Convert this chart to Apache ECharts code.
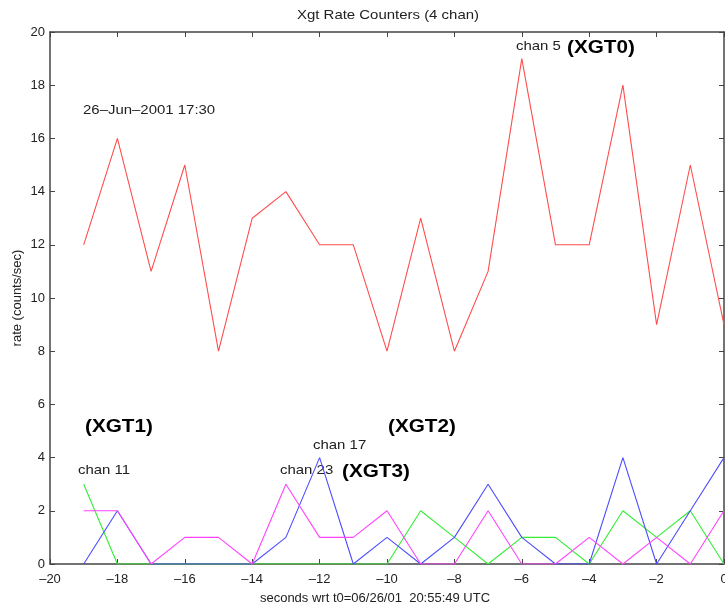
<!DOCTYPE html>
<html>
<head>
<meta charset="utf-8">
<script src="https://cdn.jsdelivr.net/npm/echarts@6/dist/echarts.min.js"></script>
<style>
  html, body { margin: 0; padding: 0; background: #fff; }
  #chart { width: 725px; height: 605px; }
</style>
</head>
<body>
<div id="chart"></div>
<script>
  // seconds relative to t0
  const seconds = [-19, -18, -17, -16, -15, -14, -13, -12, -11, -10, -9, -8, -7, -6, -5, -4, -3, -2, -1, 0]
  // counts/sec per channel
  const xgt0 = [12, 16, 11, 15, 8, 13, 14, 12, 12, 8, 13, 8, 11, 19, 12, 12, 18, 9, 15, 9]
  const xgt1 = [3, 0, 0, 0, 0, 0, 0, 0, 0, 0, 2, 1, 0, 1, 1, 0, 2, 1, 2, 0]
  const xgt2 = [0, 2, 0, 0, 0, 0, 1, 4, 0, 1, 0, 1, 3, 1, 0, 0, 4, 0, 2, 4]
  const xgt3 = [2, 2, 0, 1, 1, 0, 3, 1, 1, 2, 0, 0, 2, 0, 0, 1, 0, 1, 0, 2]

  const pairs = arr => seconds.map((s, i) => [s, arr[i]])

  const font = '"Liberation Sans", Arial, sans-serif'
  const axisColor = '#444'

  const chart = echarts.init(document.getElementById('chart'))

  const lineSeries = (name, data, color) => ({
    name: name,
    type: 'line',
    data: pairs(data),
    symbol: 'none',
    color: color,
    lineStyle: { width: 1.1, color: color },
    animation: false
  })

  // the original text is a bit wide, stretch it a little
  const note = (text, x, y, f, fill) => ({
    type: 'text', x: x, y: y, scaleX: 1.15,
    style: { text: text, font: f + ' ' + font, fill: fill || '#222', verticalAlign: 'middle' }
  })

  // box axes: bottom/left carry labels, top/right only inward ticks
  const boxLine = { onZero: false, lineStyle: { color: axisColor, width: 1.5 } }
  const boxTick = { show: true, inside: true, length: 5, lineStyle: { color: axisColor } }

  chart.setOption({
    backgroundColor: '#fff',
    textStyle: { fontFamily: font },
    grid: { left: 50, right: 1, top: 32, bottom: 41, outerBoundsMode: 'none' },
    xAxis: [
      {
        type: 'value',
        min: -20, max: 0, interval: 2,
        name: 'seconds wrt t0=06/26/01  20:55:49 UTC',
        nameLocation: 'middle',
        nameGap: 28,
        nameTextStyle: { fontSize: 13, color: '#222', padding: [0, 24, 0, 0] },
        axisLine: boxLine,
        axisTick: boxTick,
        axisLabel: {
          fontSize: 13, color: '#222', margin: 9,
          formatter: v => String(v).replace('-', '–')
        },
        splitLine: { show: false }
      },
      {
        type: 'value', position: 'top',
        min: -20, max: 0, interval: 2,
        axisLine: boxLine,
        axisTick: boxTick,
        axisLabel: { show: false },
        splitLine: { show: false }
      }
    ],
    yAxis: [
      {
        type: 'value',
        min: 0, max: 20, interval: 2,
        name: 'rate (counts/sec)',
        nameLocation: 'middle',
        nameGap: 26,
        nameMoveOverlap: false,
        nameTextStyle: { fontSize: 13, color: '#222' },
        axisLine: Object.assign({ show: true }, boxLine),
        axisTick: boxTick,
        axisLabel: { fontSize: 13, color: '#222', margin: 5 },
        splitLine: { show: false }
      },
      {
        type: 'value', position: 'right',
        min: 0, max: 20, interval: 2,
        axisLine: Object.assign({ show: true }, boxLine),
        axisTick: boxTick,
        axisLabel: { show: false },
        splitLine: { show: false }
      }
    ],
    series: [
      lineSeries('XGT0', xgt0, '#ff4d4d'),
      lineSeries('XGT1', xgt1, '#33ee33'),
      lineSeries('XGT2', xgt2, '#4d4dff'),
      lineSeries('XGT3', xgt3, '#ff44ff')
    ],
    graphic: [
      note('Xgt Rate Counters (4 chan)', 297, 15, '13px'),
      note('26–Jun–2001 17:30', 83, 110, '13px'),
      note('chan 5', 516, 46, '13px'),
      note('(XGT0)', 567, 48, 'bold 18px', '#000'),
      note('(XGT1)', 85, 427, 'bold 18px', '#000'),
      note('(XGT2)', 388, 427, 'bold 18px', '#000'),
      note('(XGT3)', 342, 472, 'bold 18px', '#000'),
      note('chan 17', 313, 445, '13px'),
      note('chan 23', 280, 470, '13px'),
      note('chan 11', 78, 470, '13px')
    ]
  })
</script>
</body>
</html>
